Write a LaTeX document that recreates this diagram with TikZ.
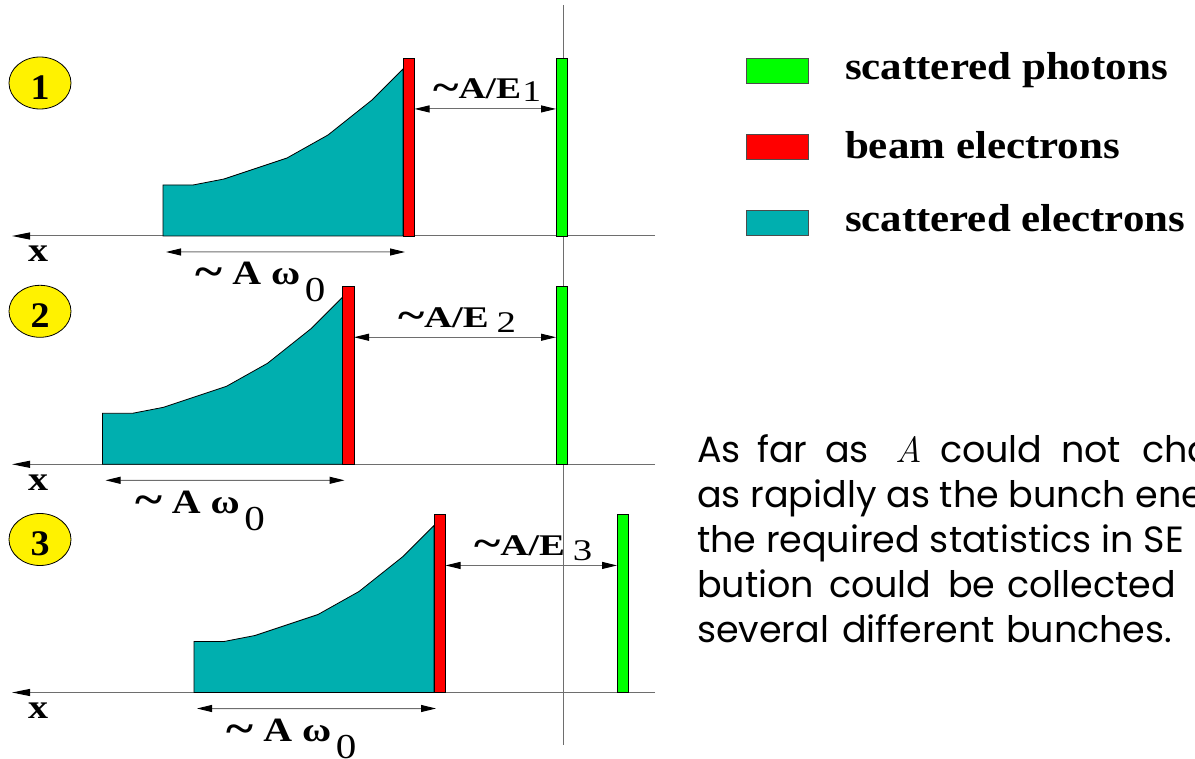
\documentclass[tikz,border=0pt]{standalone}
\usepackage{fontspec}
\setmainfont{Liberation Serif}
\newfontfamily\agfont{Poppins}
\newfontfamily\lmfont{Latin Modern Roman}
\usetikzlibrary{arrows.meta,calc,shapes.geometric}
\definecolor{tealc}{RGB}{0,175,175}
\definecolor{axgray}{RGB}{110,110,110}
\newcommand\hfitw[2]{\resizebox{#1}{\height}{#2}}
\newcommand\bigtilde{\raisebox{-1.5pt}{\scalebox{1.3}{\textasciitilde}}}
\begin{document}
\begin{tikzpicture}[x=1pt,y=-1pt,
  axisln/.style={draw=axgray,line width=1pt,-{Triangle[length=18pt,width=7pt,color=black]}},
  vline/.style={draw=axgray,line width=1pt},
  dimarrow/.style={draw=axgray,line width=1pt,{Triangle[length=15pt,width=7pt,color=black]}-{Triangle[length=15pt,width=7pt,color=black]}},
  barbox/.style={draw=black,line width=0.8pt,inner sep=0pt,outer sep=0pt,minimum width=11.5pt,minimum height=177.7pt},
  tealshape/.style={fill=tealc,draw=black,line width=0.8pt},
  swatch/.style={draw=black!70,line width=0.8pt,inner sep=0pt,outer sep=0pt,minimum width=62pt,minimum height=25pt},
  numcirc/.style={ellipse,draw=black,line width=0.8pt,fill=yellow,minimum width=62pt,minimum height=52pt,inner sep=0pt},
  lbl/.style={inner sep=0pt,outer sep=0pt},
  word/.style={inner sep=0pt,outer sep=0pt,anchor=base west,font=\agfont\fontsize{36.5}{36.5}\selectfont}
]
\clip (0,0) rectangle (1195,759);
% vertical reference line
\coordinate (vt) at (563,5);
\coordinate (vb) at (563,745);
\draw[vline] (vt) -- (vb);

\foreach \p/\dx/\ay/\gx/\aw/\dk/\dl in {1/0/236/556/108/1/3, 2/-60.5/464.3/556/118/6/5, 3/31/692.5/617/118/6/5}{
  \coordinate (axR\p) at (655,\ay);
  \coordinate (axL\p) at (12,\ay);
  \draw[axisln] (axR\p) -- (axL\p);
  \begin{scope}[shift={(\dx,\ay)}]
    \filldraw[tealshape] (163,0) -- (163,-51) -- (193,-51) -- (224,-57) -- (287,-78) -- (328,-101) -- (372,-136) -- (403,-167) -- (403,0) -- cycle;
    \node[barbox,fill=red] (red\p) at (408.75,-88.85) {};
    \coordinate (tl\p) at (163,0);
  \end{scope}
  \node[barbox,fill=green] (grn\p) at ({\gx+5.75},{\ay-88.85}) {};
  % E arrow
  \draw[dimarrow] ($(red\p.north east)!0.285!(red\p.south east)$) coordinate (ta\p) -- ($(grn\p.north west)!0.285!(grn\p.south west)$) coordinate (tb\p);
  \node[lbl,anchor=base] (ae\p) at ($(ta\p)!0.5!(tb\p)+(2,-10)$)
    {\fontsize{30}{30}\selectfont\hfitw{\aw pt}{\textbf{\bigtilde A/E}\kern\dk pt\raisebox{-\dl pt}{\fontsize{30}{30}\selectfont\p}}};
  % width arrow
  \draw[dimarrow] ($(tl\p)+(3,16)$) coordinate (ba\p) -- ($(red\p.south west)+(2,16)$) coordinate (bb\p);
  \node[lbl,anchor=base] (aw\p) at ($(ba\p)!0.5!(bb\p)+(-25,33)$)
    {\fontsize{34}{34}\selectfont\hfitw{130pt}{\textbf{\bigtilde\ A ω}\kern4pt\raisebox{-17pt}{\fontsize{35}{35}\selectfont 0}}};
  % x label
  \node[lbl,anchor=base] (x\p) at (38,{\ay+26}) {\fontsize{34}{34}\selectfont\hfitw{20pt}{\bfseries x}};
  % number circle
  \node[numcirc] (c\p) at (40,{\ay-153}) {};
  \node[lbl] (d\p) at ($(c\p.center)+(0,4.5)$) {\fontsize{36}{36}\selectfont\hfitw{19pt}{\bfseries \p}};
}

% legend
\node[swatch,fill=green] (sw1) at (777,70.8) {};
\node[lbl,anchor=base west] (lt1) at (845,80) {\fontsize{39}{39}\selectfont\hfitw{323pt}{\bfseries scattered photons}};
\node[swatch,fill=red] (sw2) at (777,147) {};
\node[lbl,anchor=base west] (lt2) at (845,159) {\fontsize{39}{39}\selectfont\hfitw{275pt}{\bfseries beam electrons}};
\node[swatch,fill=tealc] (sw3) at (777,222.5) {};
\node[lbl,anchor=base west] (lt3) at (845,231.7) {\fontsize{39}{39}\selectfont\hfitw{340pt}{\bfseries scattered electrons}};

% paragraph
\foreach \x/\w [count=\i] in {697/As, 757/far, 825/as, 940/could, 1061/not, 1142/change}
  \node[word] (pa\i) at (\x,462) {\w};
\node[word] (paA) at (895,462) {\lmfont\itshape A};
\node[word] (pb) at (697,507) {as rapidly as the bunch energy,};
\node[word] (pc) at (697,552) {the required statistics in SE};
\foreach \x/\w [count=\i] in {697/bution, 829/could, 948/be, 1007/collected}
  \node[word] (pd\i) at (\x,597) {\w};
\foreach \x/\w [count=\i] in {697/several, 842/different, 1006/bunches.}
  \node[word] (pe\i) at (\x,642) {\w};
\end{tikzpicture}
\end{document}
